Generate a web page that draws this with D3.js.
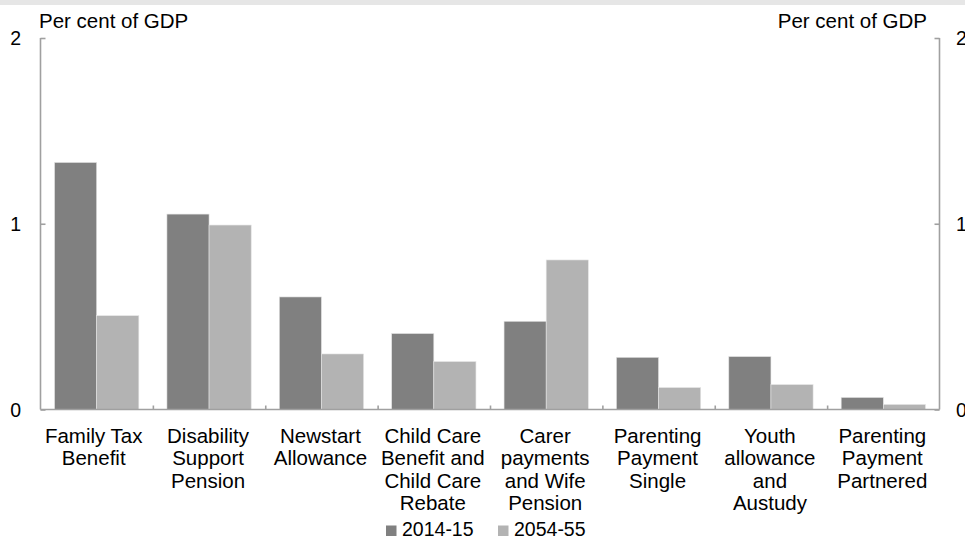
<!DOCTYPE html>
<html>
<head>
<meta charset="utf-8">
<script src="https://cdn.jsdelivr.net/npm/d3@7"></script>
<style>
  html, body { margin: 0; padding: 0; background: #fff; }
  svg { display: block; }
  text { font-family: "Liberation Sans", Arial, sans-serif; fill: #000; }
</style>
</head>
<body>
<svg id="chart" width="965" height="538"></svg>
<script>
const categories = [
  ["Family Tax", "Benefit"],
  ["Disability", "Support", "Pension"],
  ["Newstart", "Allowance"],
  ["Child Care", "Benefit and", "Child Care", "Rebate"],
  ["Carer", "payments", "and Wife", "Pension"],
  ["Parenting", "Payment", "Single"],
  ["Youth", "allowance", "and", "Austudy"],
  ["Parenting", "Payment", "Partnered"]
];
const seriesNames = ["2014-15", "2054-55"];
const values2014 = [1.33, 1.052, 0.606, 0.409, 0.475, 0.281, 0.285, 0.065];
const values2054 = [0.505, 0.993, 0.299, 0.258, 0.805, 0.118, 0.134, 0.027];
const yTicks = [0, 1, 2];
const axisLabel = "Per cent of GDP";

(function () {
const colors = ["#808080", "#b3b3b3"];
const svg = d3.select("#chart");
const W = 965, H = 538;
const pL = 40.5, pR = 939.5, pT = 38, pB = 409.5;

svg.append("rect").attr("x", 0).attr("y", 0).attr("width", W).attr("height", 5).attr("fill", "#e6e6e6");

const idx = d3.range(categories.length);
const x0 = d3.scaleBand().domain(idx).range([pL, pR]).padding(0);
const bw = x0.bandwidth();
const x1 = d3.scaleBand().domain([0, 1]).range([bw * 0.125, bw * 0.875]).padding(0);
const y = d3.scaleLinear().domain([0, 2]).range([pB, pT]);

const series = [values2014, values2054];
const g = svg.append("g");
series.forEach((vals, s) => {
  g.selectAll(".bar" + s).data(vals).enter().append("rect")
    .attr("x", (d, i) => x0(i) + x1(s))
    .attr("width", x1.bandwidth())
    .attr("y", d => y(d))
    .attr("height", d => y(0) - y(d))
    .attr("fill", colors[s])
    .attr("stroke", "#e4e4e4")
    .attr("stroke-width", 0.6);
});

const axisColor = "#a0a0a0";
const la = svg.append("g").attr("transform", `translate(${pL},0)`)
  .call(d3.axisRight(y).tickValues(yTicks).tickSize(5).tickFormat(""));
la.select(".domain").attr("d", `M0,${pT}V${pB}`);
la.selectAll("path,line").attr("stroke", axisColor).attr("stroke-width", 1.6);
const ra = svg.append("g").attr("transform", `translate(${pR},0)`)
  .call(d3.axisLeft(y).tickValues(yTicks).tickSize(5).tickFormat(""));
ra.select(".domain").attr("d", `M0,${pT}V${pB}`);
ra.selectAll("path,line").attr("stroke", axisColor).attr("stroke-width", 1.6);
const bx = d3.scaleLinear().domain([0, categories.length]).range([pL, pR]);
const ba = svg.append("g").attr("transform", `translate(0,${pB})`)
  .call(d3.axisTop(bx).tickValues(d3.range(1, categories.length)).tickSize(4).tickFormat(""));
ba.select(".domain").attr("d", `M${pL},0H${pR}`);
ba.selectAll("path,line").attr("stroke", axisColor).attr("stroke-width", 1.6);

const fs = 20.5;
svg.selectAll(".ylab").data(yTicks).enter().append("text")
  .attr("x", 21).attr("y", d => y(d) + 7).attr("text-anchor", "end")
  .attr("font-size", 19.5).text(d => d);
svg.selectAll(".ylabr").data(yTicks).enter().append("text")
  .attr("x", 956).attr("y", d => y(d) + 7).attr("text-anchor", "start")
  .attr("font-size", 19.5).text(d => d);

svg.append("text").attr("x", 39).attr("y", 28).attr("font-size", fs).text(axisLabel);
svg.append("text").attr("x", 927).attr("y", 28).attr("text-anchor", "end").attr("font-size", fs).text(axisLabel);

categories.forEach((lines, i) => {
  const cx = x0(i) + bw / 2 - (i === 0 ? 3 : 1);
  const t = svg.append("text").attr("text-anchor", "middle").attr("font-size", fs)
    .attr("x", cx).attr("y", 443);
  lines.forEach((ln, k) => {
    t.append("tspan").attr("x", cx).attr("y", 443 + k * 22.4).text(ln);
  });
});

const legX = [386, 498];
seriesNames.forEach((n, s) => {
  svg.append("rect").attr("x", legX[s]).attr("y", 525.5).attr("width", 10.5).attr("height", 10.5).attr("fill", colors[s]);
  svg.append("text").attr("x", legX[s] + 16).attr("y", 536).attr("font-size", 19.5).text(n);
});
})();
</script>
</body>
</html>
